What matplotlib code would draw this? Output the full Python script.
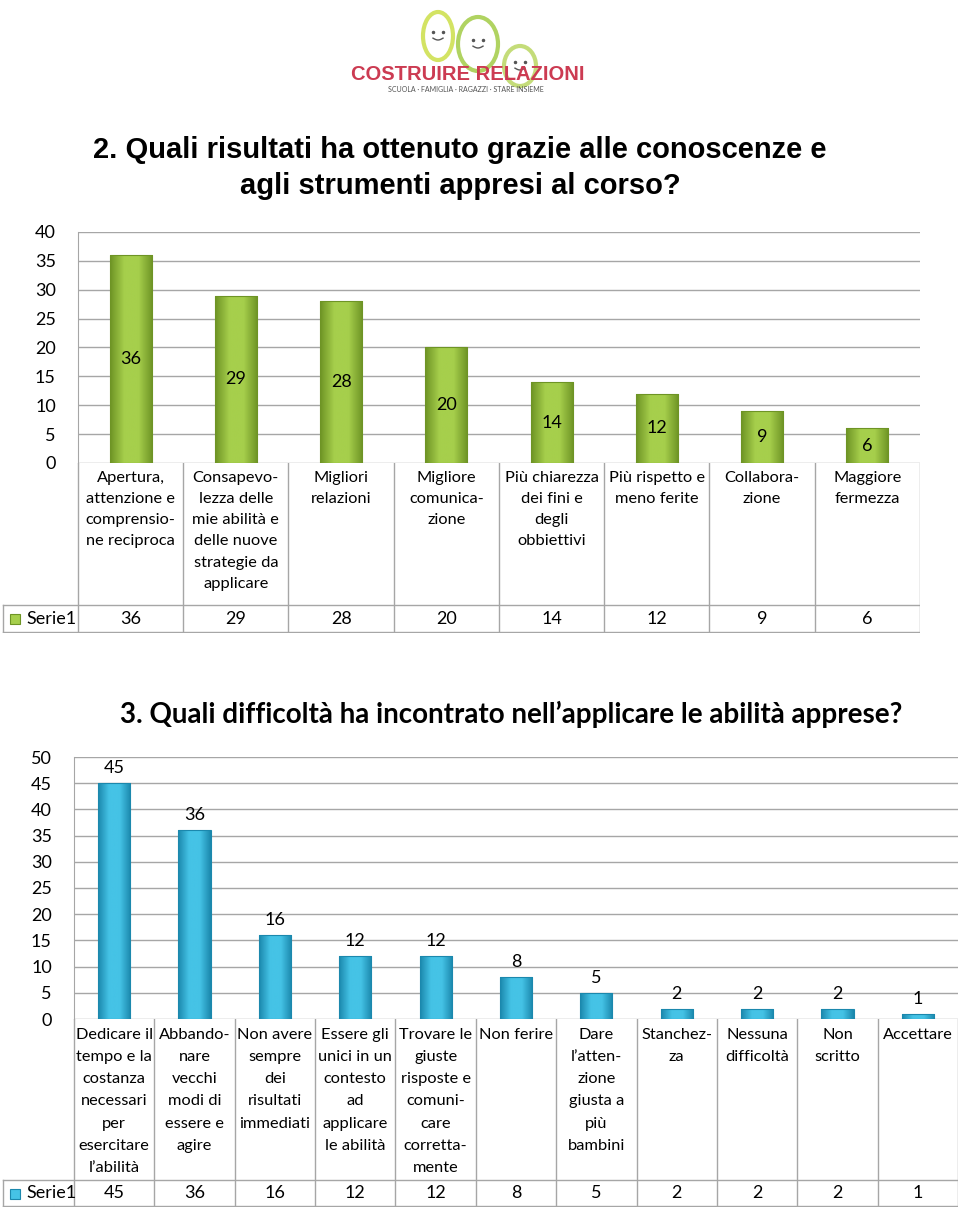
import numpy as np
import matplotlib.pyplot as plt
from matplotlib.patches import Ellipse, Rectangle
from matplotlib.colors import LinearSegmentedColormap

cats1 = ["Apertura,\nattenzione e\ncomprensio-\nne reciproca",
         "Consapevo-\nlezza delle\nmie abilità e\ndelle nuove\nstrategie da\napplicare",
         "Migliori\nrelazioni", "Migliore\ncomunica-\nzione",
         "Più chiarezza\ndei fini e\ndegli\nobbiettivi",
         "Più rispetto e\nmeno ferite", "Collabora-\nzione", "Maggiore\nfermezza"]
vals1 = [36, 29, 28, 20, 14, 12, 9, 6]

cats2 = ["Dedicare il\ntempo e la\ncostanza\nnecessari\nper\nesercitare\nl’abilità",
         "Abbando-\nnare\nvecchi\nmodi di\nessere e\nagire",
         "Non avere\nsempre\ndei\nrisultati\nimmediati",
         "Essere gli\nunici in un\ncontesto\nad\napplicare\nle abilità",
         "Trovare le\ngiuste\nrisposte e\ncomuni-\ncare\ncorretta-\nmente",
         "Non ferire", "Dare\nl’atten-\nzione\ngiusta a\npiù\nbambini",
         "Stanchez-\nza", "Nessuna\ndifficoltà", "Non\nscritto", "Accettare"]
vals2 = [45, 36, 16, 12, 12, 8, 5, 2, 2, 2, 1]

title1 = "2. Quali risultati ha ottenuto grazie alle conoscenze e\nagli strumenti appresi al corso?"
title2 = "3. Quali difficoltà ha incontrato nell’applicare le abilità apprese?"
series = "Serie1"

plt.rcParams['font.family'] = ['Lato', 'DejaVu Sans']

W, H = 960, 1209
fig = plt.figure(figsize=(W / 100, H / 100), dpi=100)
GRID = '#a6a6a6'


def px_axes(left, top, right, bottom):
    return fig.add_axes([left / W, 1 - bottom / H, (right - left) / W, (bottom - top) / H])


def draw_chart(cats, vals, ymax, left, right, top, base, table_bottom, legend_top,
               c_edge, c_mid, label_inside, lsp, lab_off):
    n = len(cats)
    ax = px_axes(left, top, right, base)
    x = np.arange(n)
    bars = ax.bar(x, vals, width=0.4, color='none', edgecolor=c_edge, linewidth=0.8, zorder=3)
    cmap = LinearSegmentedColormap.from_list('g', [c_edge, c_mid, c_mid, c_edge])
    grad = np.linspace(0, 1, 64).reshape(1, -1)
    for b in bars:
        im = ax.imshow(grad, extent=[b.get_x(), b.get_x() + b.get_width(), 0, b.get_height()],
                       aspect='auto', cmap=cmap, zorder=2, interpolation='bicubic')
        im.set_clip_path(b)
    ax.set_xlim(-0.5, n - 0.5)
    ax.set_ylim(0, ymax)
    ax.set_yticks(np.arange(0, ymax + 1, 5))
    ax.yaxis.grid(True, color=GRID, linewidth=1)
    ax.set_axisbelow(True)
    ax.set_xticks([])
    ax.tick_params(axis='y', length=0, labelsize=13, pad=16)
    for s in ['top', 'right', 'bottom']:
        ax.spines[s].set_visible(False)
    ax.spines['left'].set_color(GRID)
    for xi, v in zip(x, vals):
        if label_inside:
            ax.text(xi, v / 2, str(v), ha='center', va='center', fontsize=13, zorder=4)
        else:
            ax.annotate(str(v), (xi, v), xytext=(0, 5), textcoords='offset points',
                        ha='center', va='bottom', fontsize=13, zorder=4)

    # data table below the plot
    unit = (right - left) / n
    tx0 = 2
    tab = px_axes(tx0, base, right, table_bottom)
    lx = -0.5 - (left - tx0) / unit
    tab.set_xlim(lx, n - 0.5)
    tab.set_ylim(table_bottom - base, 0)
    tab.axis('off')
    th = table_bottom - base
    lt = legend_top - base
    for k in range(n + 1):
        tab.plot([k - 0.5, k - 0.5], [0, th], color=GRID, lw=1)
    tab.plot([lx + 0.01, n - 0.5], [lt, lt], color=GRID, lw=1)
    tab.plot([lx + 0.01, n - 0.5], [th - 1, th - 1], color=GRID, lw=1)
    tab.plot([lx + 0.01] * 2, [lt, th - 1], color=GRID, lw=1)
    for xi, c, v in zip(x, cats, vals):
        tab.text(xi, lab_off, c, ha='center', va='top', fontsize=11.8, linespacing=lsp)
        tab.text(xi, (lt + th) / 2, str(v), ha='center', va='center', fontsize=13)
    key_w = 10 / unit
    tab.add_patch(Rectangle((lx + 8 / unit, (lt + th) / 2 + 5), key_w, -10, facecolor=c_mid,
                            edgecolor=c_edge, lw=0.8))
    tab.text(lx + 24 / unit, (lt + th) / 2, series, ha='left', va='center', fontsize=13)
    return ax


draw_chart(cats1, vals1, 40, 78, 920, 232, 463, 633, 605, '#6e9425', '#a6cf4c', True, 1.65, 8)
draw_chart(cats2, vals2, 50, 74, 958, 757, 1019, 1207, 1180, '#1b88ad', '#45c3e6', False, 1.74, 9)

fig.text(460 / W, 1 - 168 / H, title1, ha='center', va='center', fontsize=21, fontweight='bold',
         family=['Liberation Sans', 'DejaVu Sans'], linespacing=1.38)
fig.text(511 / W, 1 - 714 / H, title2, ha='center', va='center', fontsize=20, fontweight='bold')

# logo
lg = px_axes(330, 0, 610, 100)
lg.set_xlim(330, 610)
lg.set_ylim(100, 0)
lg.axis('off')
for cx, cy, w, h, col in [(438, 36, 30, 48, '#c8dc3c'), (478, 44, 40, 54, '#9cc83a'), (520, 66, 32, 40, '#b6d458')]:
    lg.add_patch(Ellipse((cx, cy), w, h, fill=False, edgecolor=col, lw=3, alpha=0.8))
    lg.plot([cx - 5, cx + 5], [cy - 4, cy - 4], 'o', color='#555555', ms=1.5)
    lg.plot(cx + np.linspace(-5, 5, 10), cy + 2 + 2 * np.cos(np.linspace(-1.5, 1.5, 10)), color='#555555', lw=1)
lg.text(468, 75, 'COSTRUIRE RELAZIONI', ha='center', va='center', fontsize=14.5, fontweight='bold',
        color='#cc3b52', family=['Liberation Sans', 'DejaVu Sans'])
lg.text(466, 89, 'SCUOLA · FAMIGLIA · RAGAZZI · STARE INSIEME', ha='center', va='center', fontsize=5,
        color='#555555')

fig.savefig('out.png', dpi=100)
